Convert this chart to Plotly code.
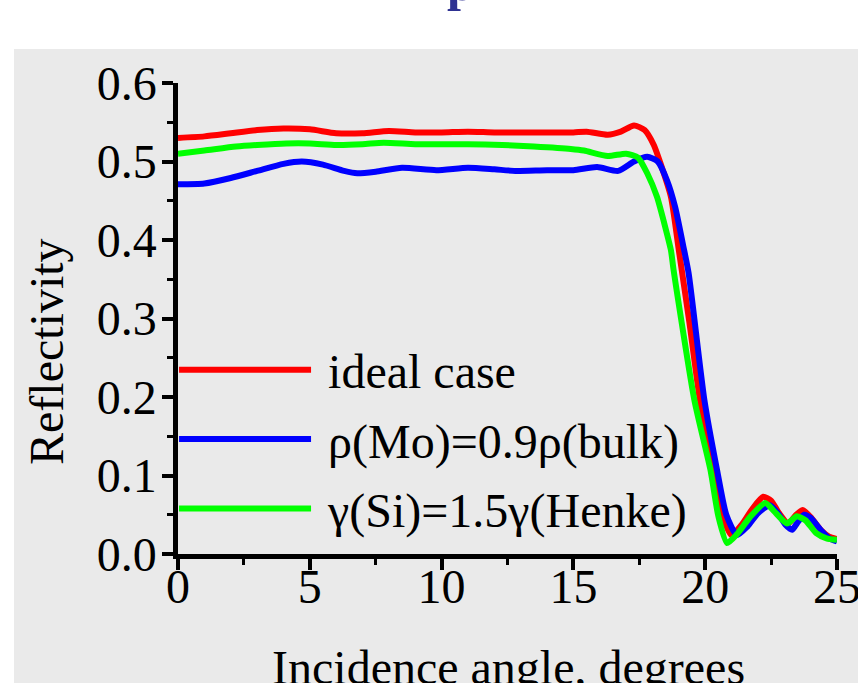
import plotly.graph_objects as go

# Reflectivity vs incidence angle for three multilayer models
angle_ideal = [0, 1, 2, 3, 4, 5, 6, 7, 8, 9, 10, 11, 12, 13, 14, 15, 15.5, 16.3, 16.8,
               17.3, 17.7, 18.05, 18.3, 18.7, 19.0, 19.4, 19.8, 20.3, 20.7, 21.0, 21.4,
               21.8, 22.2, 22.5, 22.8, 23.15, 23.45, 23.7, 24.0, 24.4, 24.7, 25.0]
refl_ideal = [0.530, 0.532, 0.536, 0.540, 0.542, 0.541, 0.536, 0.536, 0.539, 0.537, 0.537,
              0.538, 0.537, 0.537, 0.537, 0.537, 0.538, 0.534, 0.538, 0.546, 0.540, 0.521,
              0.498, 0.455, 0.387, 0.295, 0.196, 0.105, 0.045, 0.024, 0.038, 0.058, 0.073,
              0.068, 0.052, 0.039, 0.050, 0.056, 0.047, 0.030, 0.022, 0.019]

angle_mo = [0, 1, 2, 3, 4, 4.7, 5.5, 6.3, 6.8, 7.5, 8.5, 9.8, 11.0, 12.0, 12.8, 14.0, 15.0,
            15.9, 16.7, 17.3, 17.8, 18.2, 18.55, 18.86, 19.17, 19.37, 19.97, 20.45, 20.8,
            21.2, 21.6, 22.0, 22.45, 22.8, 23.05, 23.3, 23.5, 23.75, 24.0, 24.4, 24.7, 25.0]
refl_mo = [0.471, 0.472, 0.479, 0.488, 0.497, 0.500, 0.496, 0.488, 0.485, 0.487, 0.492,
           0.489, 0.492, 0.490, 0.488, 0.489, 0.489, 0.493, 0.488, 0.500, 0.506, 0.500,
           0.476, 0.442, 0.392, 0.358, 0.196, 0.107, 0.050, 0.024, 0.035, 0.052, 0.062,
           0.050, 0.037, 0.031, 0.040, 0.050, 0.046, 0.030, 0.020, 0.016]

angle_si = [0, 1, 2.2, 3, 4.1, 5, 6, 7, 7.8, 9, 10, 11, 12.3, 13.5, 14.9, 15.4, 16.3, 17.0,
            17.45, 17.8, 18.17, 18.48, 18.7, 18.8, 19.59, 20.2, 20.5, 20.83, 21.2, 21.7,
            22.28, 22.6, 23.1, 23.47, 23.8, 24.2, 24.6, 25.0]
refl_si = [0.510, 0.514, 0.519, 0.521, 0.523, 0.523, 0.521, 0.522, 0.524, 0.522, 0.522,
           0.522, 0.521, 0.519, 0.516, 0.514, 0.507, 0.510, 0.505, 0.485, 0.455, 0.417,
           0.387, 0.362, 0.196, 0.107, 0.048, 0.014, 0.025, 0.047, 0.065, 0.055, 0.039,
           0.048, 0.043, 0.027, 0.020, 0.018]

series_names = ["ideal case", "\u03c1(Mo)=0.9\u03c1(bulk)", "\u03b3(Si)=1.5\u03b3(Henke)"]
series_colors = ["#FF0000", "#0000FF", "#00FF00"]

x_tickvals = [0, 5, 10, 15, 20, 25]
y_tickvals = [0.0, 0.1, 0.2, 0.3, 0.4, 0.5, 0.6]

SERIF = "Liberation Serif, Times New Roman, serif"
PANEL = "#EAEAEA"

fig = go.Figure()
for xs, ys, name, color in zip([angle_ideal, angle_mo, angle_si],
                               [refl_ideal, refl_mo, refl_si],
                               series_names, series_colors):
    fig.add_trace(go.Scatter(
        x=xs, y=ys, mode="lines", name=" " + name, legendgroup=name,
        line=dict(color=color, width=6, shape="spline", smoothing=0.6),
    ))

axis_common = dict(
    showline=True, linecolor="black", linewidth=4.5, mirror=False,
    showgrid=False, zeroline=False,
    ticks="outside", ticklen=11, tickwidth=3.5, tickcolor="black",
    tickfont=dict(family=SERIF, size=48, color="black"),
    ticklabeloverflow="allow", automargin=False,
)

fig.update_xaxes(range=[0, 25], tickvals=x_tickvals, ticklabelstandoff=-24,
                 minor=dict(ticks="outside", ticklen=6, tickwidth=3, dtick=2.5,
                            tickcolor="black", showgrid=False),
                 **axis_common)
fig.update_yaxes(range=[0, 0.6], tickvals=y_tickvals, tickformat=".1f",
                 ticklabelstandoff=-4,
                 minor=dict(ticks="outside", ticklen=6, tickwidth=3, dtick=0.05,
                            tickcolor="black", showgrid=False),
                 **axis_common)

fig.update_layout(
    width=858, height=683,
    margin=dict(l=178, r=21, t=83, b=129, autoexpand=False),
    paper_bgcolor="white",
    plot_bgcolor=PANEL,
    showlegend=True,
    legend=dict(
        x=-0.006, y=0.4713, xanchor="left", yanchor="top",
        bgcolor="rgba(0,0,0,0)", borderwidth=0,
        font=dict(family=SERIF, size=48, color="black"),
        itemwidth=132, tracegroupgap=4,
    ),
    shapes=[dict(type="rect", xref="paper", yref="paper",
                 x0=-0.2489, x1=1.04, y0=-0.30, y1=1.0722,
                 fillcolor=PANEL, line=dict(width=0), layer="below")],
    annotations=[
        dict(text="Incidence angle, degrees", xref="paper", yref="paper",
             x=0.501, y=-0.240, xanchor="center", yanchor="middle", showarrow=False,
             font=dict(family=SERIF, size=48, color="black")),
        dict(text="Reflectivity", xref="paper", yref="paper", textangle=-90,
             x=-0.1988, y=0.431, xanchor="center", yanchor="middle", showarrow=False,
             font=dict(family=SERIF, size=48, color="black")),
        dict(text="<b>p</b>", xref="paper", yref="paper",
             x=0.4052, y=1.2123, xanchor="left", yanchor="middle", showarrow=False,
             font=dict(family=SERIF, size=50, color="#2E3192")),
    ],
)

fig.write_html("out.html")
